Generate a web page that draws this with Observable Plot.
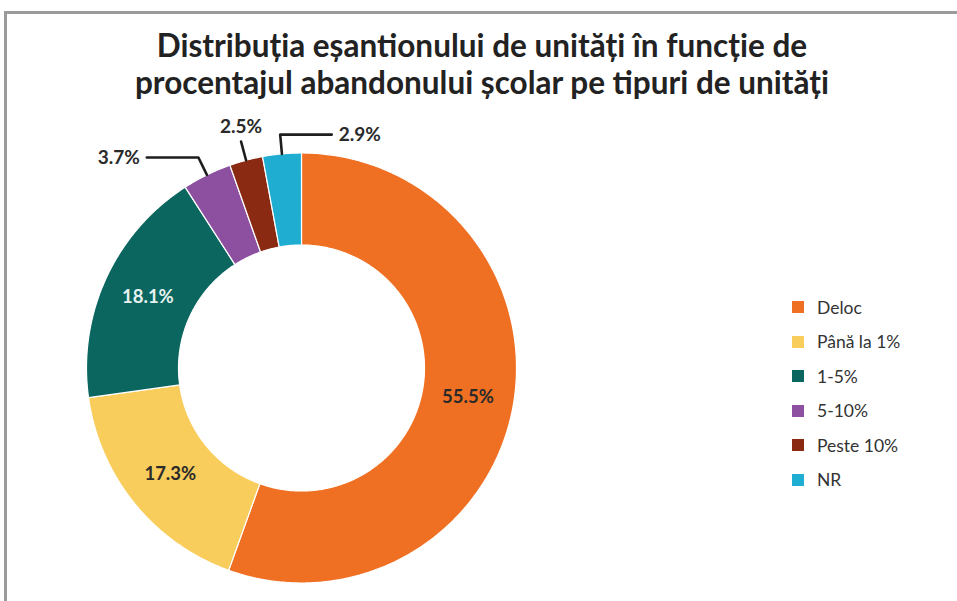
<!DOCTYPE html>
<html><head><meta charset="utf-8">
<script src="https://cdn.jsdelivr.net/npm/d3@7"></script>
<script src="https://cdn.jsdelivr.net/npm/@observablehq/plot@0.6"></script>
<style>
body{margin:0;background:#fff;font-family:Lato,"Open Sans",sans-serif;}
#wrap{position:relative;width:957px;height:601px;overflow:hidden;background:#fff}
#frame{position:absolute;left:4px;top:11px;width:1000px;height:700px;border:3px solid #9b9b9b;box-sizing:border-box}
#title{position:absolute;left:0;top:27px;width:964px;text-align:center;font-weight:700;font-size:31.5px;line-height:37px;color:#222}
#chart{position:absolute;left:0;top:0}
#legend{position:absolute;left:792px;top:290px;font-size:17.5px;color:#333}
.row{display:flex;align-items:center;height:34.5px}
.sw{width:12px;height:12px;margin-right:13px}
</style>
</head><body>
<div id="wrap">
  <div id="frame"></div>
  <div id="chart"></div>
  <div id="title">Distribuția eșantionului de unități în funcție de<br>procentajul abandonului școlar pe tipuri de unități</div>
  <div id="legend"></div>
</div>
<script>
// ---- data ----
const categories = ["Deloc", "Până la 1%", "1-5%", "5-10%", "Peste 10%", "NR"];
const values = [55.5, 17.3, 18.1, 3.7, 2.5, 2.9];
const colors = ["#F07023", "#F9CD5C", "#0B665F", "#8D4FA0", "#8B2A12", "#1FADD1"];

// ---- layout (pixels) ----
const cx = 301, cy = 367.5, R = 215, R0 = 123;
const inner = R0 / R;
const labelR = (1 + inner) / 2;
const elbowR = 1.09, legLen = 0.24;
const outsideDir = {"5-10%": -1, "Peste 10%": 0, "NR": 1};

const total = d3.sum(values);
let acc = 0;
const slices = categories.map((c, i) => {
  const a0 = acc / total * 2 * Math.PI;
  acc += values[i];
  const a1 = acc / total * 2 * Math.PI;
  return {key: c, value: values[i], a0, a1, mid: (a0 + a1) / 2, color: colors[i],
          label: values[i].toFixed(1) + "%"};
});

const pts = [];
for (const s of slices) {
  const n = Math.max(4, Math.ceil((s.a1 - s.a0) / 0.01));
  for (let k = 0; k <= n; k++) {
    const a = s.a0 + (s.a1 - s.a0) * k / n;
    pts.push({key: s.key, x: Math.sin(a), y: Math.cos(a)});
  }
  for (let k = n; k >= 0; k--) {
    const a = s.a0 + (s.a1 - s.a0) * k / n;
    pts.push({key: s.key, x: inner * Math.sin(a), y: inner * Math.cos(a)});
  }
}

const insideSl = slices.filter(s => s.value >= 10);
const outsideSl = slices.filter(s => s.value < 10).map(s => {
  const dir = outsideDir[s.key] ?? 0;
  const ex = elbowR * Math.sin(s.mid), ey = elbowR * Math.cos(s.mid);
  return {...s, dir, sx: Math.sin(s.mid), sy: Math.cos(s.mid), ex, ey, tx: ex + dir * legLen, ty: ey};
});
const leaders = [];
for (const o of outsideSl) {
  leaders.push({key: o.key, x: o.sx, y: o.sy});
  leaders.push({key: o.key, x: o.ex, y: o.ey});
  if (o.dir !== 0) leaders.push({key: o.key, x: o.tx, y: o.ty});
}

const textFill = s => d3.hsl(s.color).l < 0.4 ? "#e6f2f0" : "#2a2a2a";

const chart = Plot.plot({
  width: 957, height: 601, margin: 0,
  x: {domain: [-1, 1], range: [cx - R, cx + R], axis: null},
  y: {domain: [-1, 1], range: [cy + R, cy - R], axis: null},
  color: {domain: categories, range: colors},
  style: {fontFamily: "Lato, 'Open Sans', sans-serif", background: "transparent"},
  marks: [
    Plot.line(pts, {x: "x", y: "y", z: "key", fill: "key", stroke: "white", strokeWidth: 1.2, curve: "linear-closed"}),
    Plot.text(insideSl, {x: s => labelR * Math.sin(s.mid), y: s => labelR * Math.cos(s.mid), text: "label",
      fill: textFill, fontWeight: 700, fontSize: 18.5}),
    Plot.line(leaders, {x: "x", y: "y", z: "key", stroke: "#1e1e1e", strokeWidth: 2.6}),
    Plot.text(outsideSl.filter(o => o.dir < 0), {x: "tx", y: "ty", text: "label", textAnchor: "end", dx: -7,
      fill: "#2a2a2a", fontWeight: 700, fontSize: 19}),
    Plot.text(outsideSl.filter(o => o.dir > 0), {x: "tx", y: "ty", text: "label", textAnchor: "start", dx: 7,
      fill: "#2a2a2a", fontWeight: 700, fontSize: 19}),
    Plot.text(outsideSl.filter(o => o.dir === 0), {x: "ex", y: "ey", text: "label", dy: -15,
      fill: "#2a2a2a", fontWeight: 700, fontSize: 19})
  ]
});
document.getElementById("chart").appendChild(chart);

const leg = document.getElementById("legend");
categories.forEach((c, i) => {
  const row = document.createElement("div");
  row.className = "row";
  const sw = document.createElement("div");
  sw.className = "sw";
  sw.style.background = colors[i];
  const t = document.createElement("span");
  t.textContent = c;
  row.appendChild(sw); row.appendChild(t);
  leg.appendChild(row);
});
</script>
</body></html>
